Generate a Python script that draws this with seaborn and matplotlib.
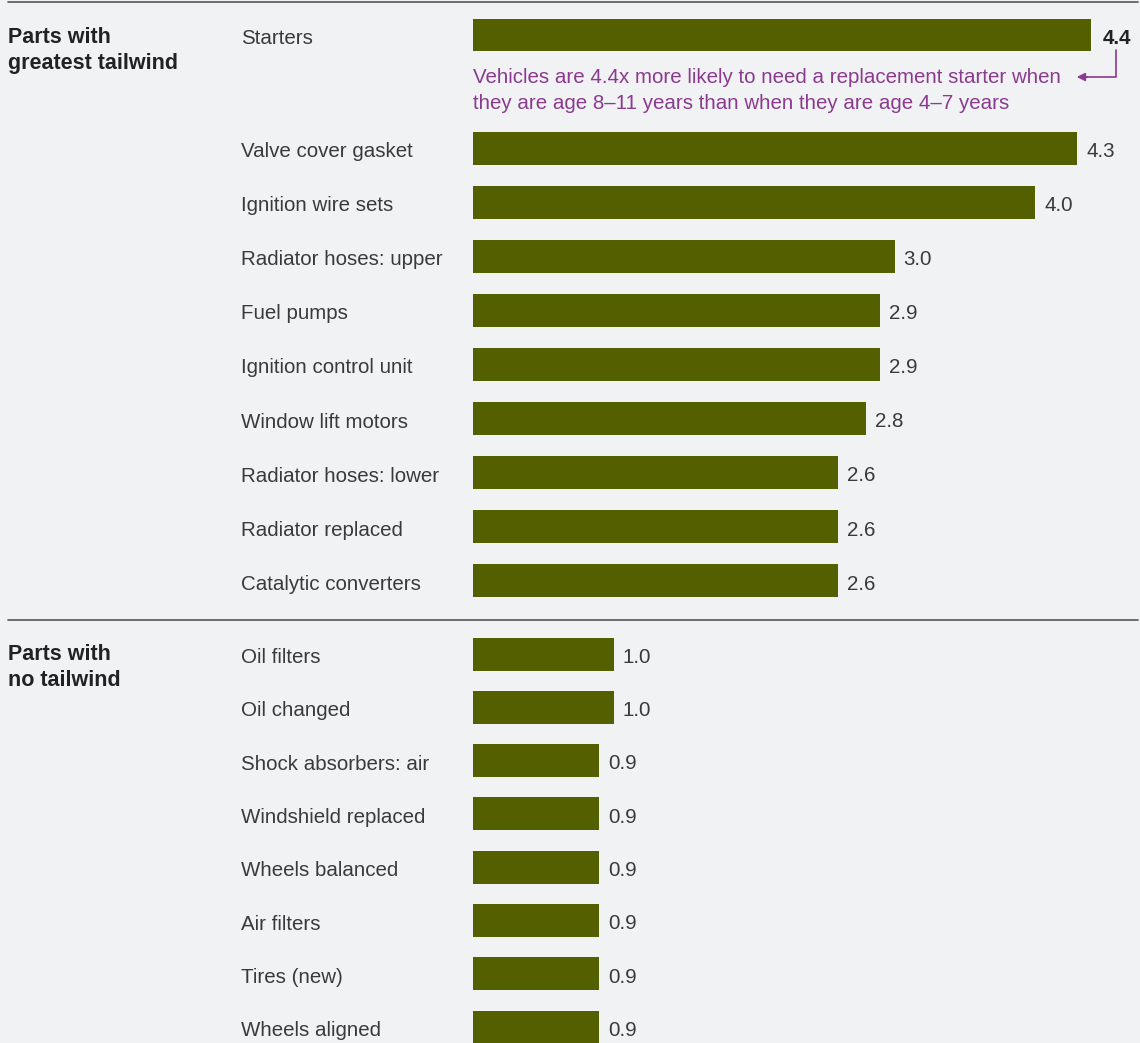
import matplotlib
matplotlib.use("Agg")
import matplotlib.pyplot as plt
import matplotlib.transforms as mtransforms
import seaborn as sns
import pandas as pd
import numpy as np

# ---- data ----
top_parts = ["Starters", "Valve cover gasket", "Ignition wire sets", "Radiator hoses: upper",
             "Fuel pumps", "Ignition control unit", "Window lift motors",
             "Radiator hoses: lower", "Radiator replaced", "Catalytic converters"]
top_values = [4.4, 4.3, 4.0, 3.0, 2.9, 2.9, 2.8, 2.6, 2.6, 2.6]
bottom_parts = ["Oil filters", "Oil changed", "Shock absorbers: air", "Windshield replaced",
                "Wheels balanced", "Air filters", "Tires (new)", "Wheels aligned"]
bottom_values = [1.0, 1.0, 0.9, 0.9, 0.9, 0.9, 0.9, 0.9]
section_titles = ["Parts with\ngreatest tailwind", "Parts with\nno tailwind"]
annotation_text = ("Vehicles are 4.4x more likely to need a replacement starter when\n"
                   "they are age 8\u201311 years than when they are age 4\u20137 years")

# ---- style ----
BG = "#f1f2f4"
BAR = "#546000"
PURPLE = "#8a3a8f"
TEXT = "#3a3a3a"
W, H = 1140, 1043
FS = 14.8

sns.set_theme(style="white")
plt.rcParams["font.family"] = ["Liberation Sans", "DejaVu Sans"]

# layout positions (pixel rows)
top_y = [35] + [148 + 54.1 * i for i in range(len(top_parts) - 1)]
bottom_y = [654 + 53.3 * i for i in range(len(bottom_parts))]

df = pd.DataFrame({
    "part": top_parts + bottom_parts,
    "value": top_values + bottom_values,
    "ypos": top_y + bottom_y,
})

fig = plt.figure(figsize=(W / 100, H / 100), dpi=100, facecolor=BG)
x0 = 473
px_per_unit = 140.5
ax = fig.add_axes([x0 / W, 0, (W - x0) / W, 1])
ax.set_facecolor(BG)

sns.barplot(data=df, x="value", y="ypos", orient="h", native_scale=True,
            color=BAR, saturation=1, width=33 / 53.3, ax=ax, errorbar=None,
            linewidth=0)

ax.set_xlim(0, (W - x0) / px_per_unit)
ax.set_ylim(H, 0)
ax.axis("off")

label_tr = mtransforms.blended_transform_factory(fig.transFigure, ax.transData)
for i, row in df.iterrows():
    ax.text(241 / W, row.ypos + 1.5, row.part, transform=label_tr, ha="left",
            va="center_baseline", fontsize=FS, color=TEXT)
    bold = i == 0
    ax.annotate(f"{row.value:.1f}", xy=(row.value, row.ypos), xytext=(6.5 if not bold else 8, -1),
                textcoords="offset points", ha="left", va="center_baseline",
                fontsize=FS, color="#222222" if bold else TEXT,
                fontweight="bold" if bold else "normal")

# section titles and separator lines
fig_tr = fig.transFigure
ax.text(8 / W, 27, section_titles[0], transform=label_tr, ha="left", va="top",
        fontsize=15.5, fontweight="bold", color="#222222", linespacing=1.32)
ax.text(8 / W, 644, section_titles[1], transform=label_tr, ha="left", va="top",
        fontsize=15.5, fontweight="bold", color="#222222", linespacing=1.32)
for yline in [2, 620]:
    fig.add_artist(plt.Line2D([8 / W, 1138 / W], [1 - yline / H, 1 - yline / H],
                              transform=fig_tr, color="#555555", lw=1.2))

# annotation
ax.text(0, 90.5, annotation_text, ha="left", va="center", fontsize=FS,
        color=PURPLE, linespacing=1.5)
ax_x = lambda px: (px - x0) / px_per_unit
ax.plot([ax_x(1116), ax_x(1116), ax_x(1085)], [50, 77, 77], color=PURPLE, lw=1.2)
ax.annotate("", xy=(ax_x(1074), 77), xytext=(ax_x(1090), 77),
            arrowprops=dict(arrowstyle="-|>", color=PURPLE, lw=1.2, mutation_scale=12))

fig.savefig("out.png", dpi=100, facecolor=BG)
